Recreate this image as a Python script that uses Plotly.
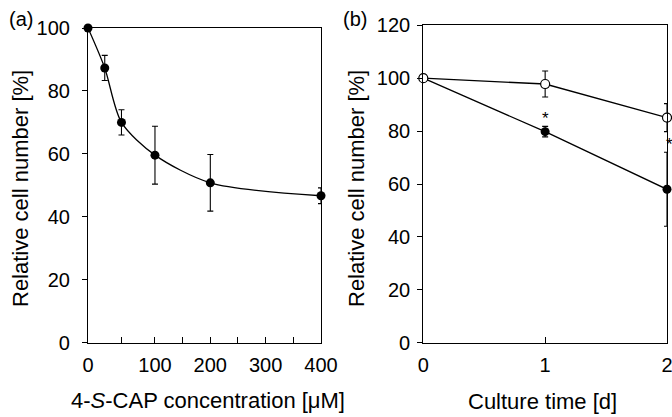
import plotly.graph_objects as go

# ---- Data ----
# Panel (a): concentration response
conc_um = [0, 25, 50, 100, 200, 400]
rel_a = [100, 87.3, 70.0, 59.6, 50.8, 46.7]
err_a = [0, 4.0, 4.0, 9.2, 9.0, 2.5]
conc_ticks = [0, 50, 100, 150, 200, 250, 300, 350, 400]
conc_tick_labels = ["0", "", "100", "", "200", "", "300", "", "400"]

# Panel (b): time course
time_d = [0, 1, 2]
rel_control = [100, 97.8, 85.1]
err_control = [0, 4.9, 5.3]
rel_treated = [100, 79.8, 58.0]
err_treated = [0, 2.0, 14.0]
signif_days = [1, 2]

FONT = "Liberation Sans, Arial, Helvetica, sans-serif"
W, H = 672, 417


def conc_axis(c):
    # original figure's x axis stretches the 0-100 segment
    return c * 1.21 if c <= 100 else 121 + (c - 100)


fig = go.Figure()

fig.add_trace(go.Scatter(
    x=[conc_axis(c) for c in conc_um], y=rel_a,
    mode="lines+markers",
    line=dict(color="black", width=1.3, shape="spline", smoothing=0.8),
    marker=dict(color="black", size=9),
    error_y=dict(type="data", array=err_a, color="black", thickness=1.1, width=3),
    xaxis="x", yaxis="y", cliponaxis=False, showlegend=False,
))

fig.add_trace(go.Scatter(
    x=time_d, y=rel_treated,
    mode="lines+markers",
    line=dict(color="black", width=1.3),
    marker=dict(color="black", size=9),
    error_y=dict(type="data", array=err_treated, color="black", thickness=1.1, width=3),
    xaxis="x2", yaxis="y2", cliponaxis=False, showlegend=False,
))
fig.add_trace(go.Scatter(
    x=time_d, y=rel_control,
    mode="lines+markers",
    line=dict(color="black", width=1.3),
    marker=dict(color="white", size=9, line=dict(color="black", width=1.2)),
    error_y=dict(type="data", array=err_control, color="black", thickness=1.1, width=3),
    xaxis="x2", yaxis="y2", cliponaxis=False, showlegend=False,
))

# significance stars
for d in signif_days:
    i = time_d.index(d)
    fig.add_annotation(x=d, y=rel_treated[i] + err_treated[i], xref="x2", yref="y2",
                       text="*", showarrow=False, yanchor="bottom", yshift=-4,
                       xshift=2 if d == 2 else 0,
                       font=dict(family=FONT, size=17, color="black"))

ax_common = dict(showgrid=False, zeroline=False, showline=True, mirror=True,
                 automargin=False, ticklabeloverflow="allow",
                 linecolor="black", linewidth=1.2, tickcolor="black", tickwidth=1.2,
                 tickfont=dict(family=FONT, size=20, color="black"))

y_lo = 1 - 342.7 / H
fig.update_layout(
    template="none",
    width=W, height=H,
    margin=dict(l=0, r=0, t=0, b=0, pad=0),
    paper_bgcolor="white", plot_bgcolor="white",
    xaxis=dict(domain=[88 / W, 321 / W], range=[0, conc_axis(400)],
               tickmode="array", tickvals=[conc_axis(c) for c in conc_ticks],
               ticktext=conc_tick_labels, ticks="inside", ticklen=6,
               ticklabelstandoff=4, anchor="y", **ax_common),
    yaxis=dict(domain=[y_lo, 1 - 28 / H], range=[0, 100], dtick=20,
               ticks="outside", ticklen=5, ticklabelstandoff=8, anchor="x", **ax_common),
    xaxis2=dict(domain=[423.3 / W, 667 / W], range=[0, 2], tickvals=[0, 1, 2],
                ticks="inside", ticklen=6, ticklabelstandoff=4, anchor="y2", **ax_common),
    yaxis2=dict(domain=[y_lo, 1 - 25.3 / H], range=[0, 120], dtick=20,
                ticks="outside", ticklen=5, ticklabelstandoff=3, anchor="x2", **ax_common),
)

def px_ann(text, x, y, size, angle=0):
    fig.add_annotation(text=text, x=x / W, y=1 - y / H, xref="paper", yref="paper",
                       showarrow=False, xanchor="center", yanchor="middle",
                       textangle=angle, font=dict(family=FONT, size=size, color="black"))

px_ann("4-<i>S</i>-CAP concentration [μM]", 208, 400, 22)
px_ann("Culture time [d]", 542, 401, 22)
px_ann("Relative cell number [%]", 20, 189, 22, -90)
px_ann("Relative cell number [%]", 356, 189, 22, -90)
px_ann("(a)", 21, 19, 20)
px_ann("(b)", 355, 19, 20)

fig.write_html(
    "out.html",
    config={"displayModeBar": False},
    post_script="document.body.style.margin='0';document.body.style.padding='0';",
)
